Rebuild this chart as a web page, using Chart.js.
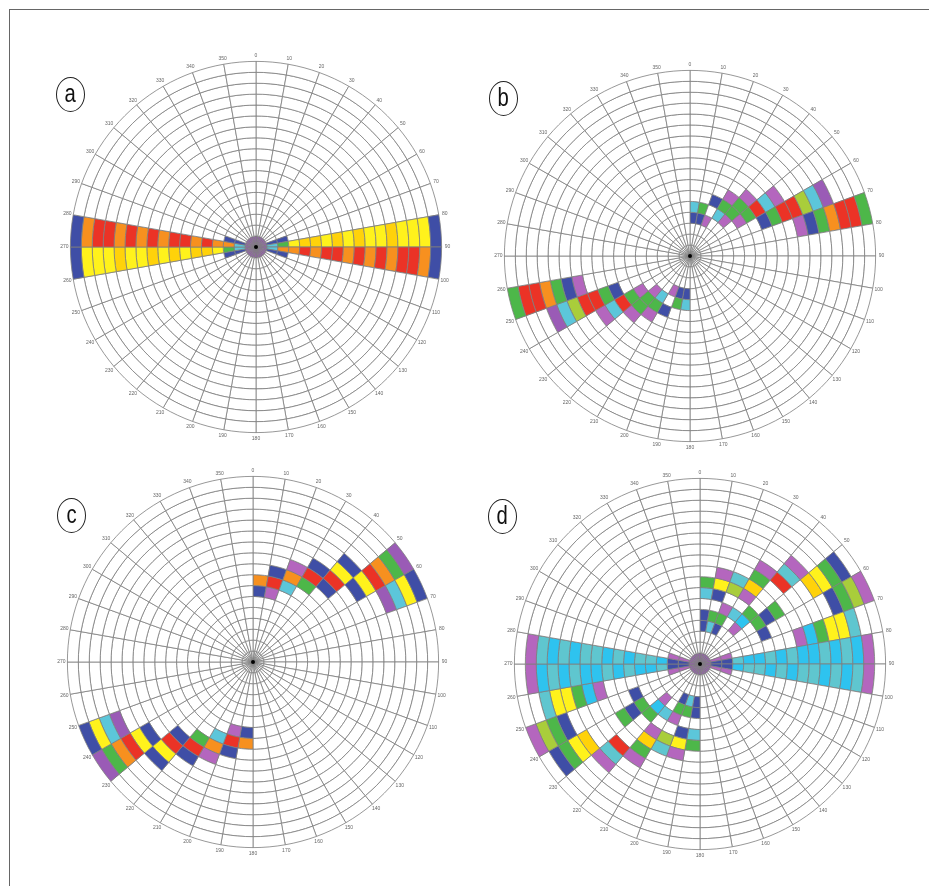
<!DOCTYPE html>
<html><head><meta charset="utf-8">
<script src="https://cdn.jsdelivr.net/npm/chart.js@4/dist/chart.umd.min.js"></script>
<style>
html,body{margin:0;padding:0;background:#fff;}
body{width:929px;height:886px;position:relative;overflow:hidden;font-family:"Liberation Sans",Arial,sans-serif;}
.frame{position:absolute;left:9px;top:9px;width:940px;height:900px;border-left:1px solid #666;border-top:1px solid #666;}
.wrap{position:absolute;width:430px;height:430px;}
.tag{position:absolute;width:27px;height:33px;border:1.4px solid #222;border-radius:50%;text-align:center;}
.tag span{display:inline-block;font:26px "Liberation Sans",Arial,sans-serif;line-height:31px;transform:scaleX(0.78);color:#111;}
</style></head><body>
<div class="frame"></div>
<div class="wrap" style="left:41px;top:32px"><canvas id="ca" width="430" height="430"></canvas></div>
<div class="wrap" style="left:475px;top:41px"><canvas id="cb" width="430" height="430"></canvas></div>
<div class="wrap" style="left:38px;top:447px"><canvas id="cc" width="430" height="430"></canvas></div>
<div class="wrap" style="left:485px;top:449px"><canvas id="cd" width="430" height="430"></canvas></div>
<div class="tag" style="left:56px;top:77px"><span>a</span></div>
<div class="tag" style="left:489px;top:81px"><span>b</span></div>
<div class="tag" style="left:57px;top:498px"><span>c</span></div>
<div class="tag" style="left:488px;top:499px"><span>d</span></div>
<script>
// ---- tick labels (azimuth, degrees) ----
const angleLabels = ['0','10','20','30','40','50','60','70','80','90','100','110','120','130','140','150','160','170',
  '180','190','200','210','220','230','240','250','260','270','280','290','300','310','320','330','340','350'];
// ---- colour keys ----
const palette = {B:'#3f4ea6', P:'#9a5bb6', M:'#b466be', C:'#5cc6da', S:'#2ec3ef', T:'#5fc6cf', G:'#4db749',
  L:'#a9cd3b', Y:'#fff21c', K:'#ffd20a', O:'#f7901f', R:'#eb3326'};
// ---- cells: one string per ring (ring 1 = innermost ... ring 17 = outermost), 36 sectors of 10 deg ----
const ringsA = [
 'PPPPPPPPP|PPPPPPPPP|PPPPPPPPP|PPPPPPPPP',
 '.......BC|CB.......|.......BC|CB.......',
 '.......BG|OB.......|.......BG|OB.......',
 '........Y|O........|........Y|O........',
 '........K|R........|........K|R........',
 '........K|O........|........K|O........',
 '........Y|R........|........Y|R........',
 '........K|R........|........K|R........',
 '........Y|O........|........Y|O........',
 '........K|R........|........K|R........',
 '........Y|O........|........Y|O........',
 '........Y|R........|........Y|R........',
 '........K|O........|........K|O........',
 '........Y|R........|........Y|R........',
 '........Y|R........|........Y|R........',
 '........Y|O........|........Y|O........',
 '........B|B........|........B|B........'
];
const ringsB = [
 '.........|.........|.........|.........',
 '.........|.........|.........|.........',
 '.........|.........|.........|.........',
 'BBM......|.........|BBM......|.........',
 'CG.CM....|.........|CG.CM....|.........',
 '..BGGM...|.........|..BGGM...|.........',
 '...MGG...|.........|...MGG...|.........',
 '....MRB..|.........|....MRB..|.........',
 '.....CG..|.........|.....CG..|.........',
 '.....MR..|.........|.....MR..|.........',
 '......RM.|.........|......RM.|.........',
 '......LB.|.........|......LB.|.........',
 '......CG.|.........|......CG.|.........',
 '......PO.|.........|......PO.|.........',
 '.......R.|.........|.......R.|.........',
 '.......R.|.........|.......R.|.........',
 '.......G.|.........|.......G.|.........'
];
const ringsC = [
 '.........|.........|.........|.........',
 '.........|.........|.........|.........',
 '.........|.........|.........|.........',
 '.........|.........|.........|.........',
 '.........|.........|.........|.........',
 '.........|.........|.........|.........',
 'BM.......|.........|BM.......|.........',
 'ORC......|.........|ORC......|.........',
 '.BOG.....|.........|.BOG.....|.........',
 '..MRB....|.........|..MRB....|.........',
 '...BR....|.........|...BR....|.........',
 '....YB...|.........|....YB...|.........',
 '....BY...|.........|....BY...|.........',
 '.....RP..|.........|.....RP..|.........',
 '.....OC..|.........|.....OC..|.........',
 '.....GY..|.........|.....GY..|.........',
 '.....PB..|.........|.....PB..|.........'
];
const ringsD = [
 'PPPPPPPPP|PPPPPPPPP|PPPPPPPPP|PPPPPPPPP',
 '.......MB|BM.......|.......MB|BM.......',
 '.......MB|BM.......|.......MB|BM.......',
 'BCB.....T|S........|BCB.....T|S........',
 'BGG.M...S|T........|BGG.M...S|T........',
 '..MCS...S|T........|..MCS...S|T........',
 'CB..GGB.T|S........|CB..GGB.T|S........',
 'GYLM.B..S|T........|GYLM.B..S|T........',
 '.MTK.G..T|S........|.MTK.G..T|S........',
 '...G...MS|T........|...G...MS|T........',
 '...MR..SS|T........|...MR..SS|T........',
 '....T..GT|S........|....T..GT|S........',
 '....MK.YS|T........|....MK.YS|T........',
 '.....YBYT|S........|.....YBYT|S........',
 '.....GGTS|T........|.....GGTS|T........',
 '.....BL.M|M........|.....BL.M|M........',
 '......M..|.........|......M..|.........'
];

const rimLabels = {
  id: 'rimLabels',
  afterDraw(chart) {
    const arc = chart.getDatasetMeta(0).data[0];
    if (!arc) return;
    const {x, y, outerRadius} = arc.getProps(['x','y','outerRadius'], true);
    const ctx = chart.ctx;
    ctx.save();
    ctx.fillStyle = '#666';
    ctx.font = '5px "Liberation Sans", Arial, sans-serif';
    ctx.textAlign = 'center';
    ctx.textBaseline = 'middle';
    angleLabels.forEach((t, i) => {
      const a = (i * 10) * Math.PI / 180;
      const rr = outerRadius + 6;
      ctx.fillText(t, x + rr * Math.sin(a), y - rr * Math.cos(a));
    });
    ctx.fillStyle = '#000';
    ctx.beginPath(); ctx.arc(x, y, 2, 0, Math.PI * 2); ctx.fill();
    ctx.restore();
  }
};

function makeRose(id, rings) {
  const datasets = [];
  for (let k = rings.length - 1; k >= 0; k--) {
    const cells = rings[k].split('|').join('').split('');
    datasets.push({
      data: angleLabels.map(() => 1),
      backgroundColor: cells.map(c => c === '.' ? '#ffffff' : palette[c]),
      borderColor: '#7d7d7d',
      borderWidth: 0.8,
      hoverOffset: 0
    });
  }
  new Chart(document.getElementById(id), {
    type: 'doughnut',
    data: {labels: angleLabels, datasets},
    options: {
      responsive: false, animation: false, events: [],
      cutout: 0, rotation: 0,
      layout: {padding: 29},
      plugins: {legend: {display: false}, tooltip: {enabled: false}}
    },
    plugins: [rimLabels]
  });
}
makeRose('ca', ringsA);
makeRose('cb', ringsB);
makeRose('cc', ringsC);
makeRose('cd', ringsD);
</script>
</body></html>
